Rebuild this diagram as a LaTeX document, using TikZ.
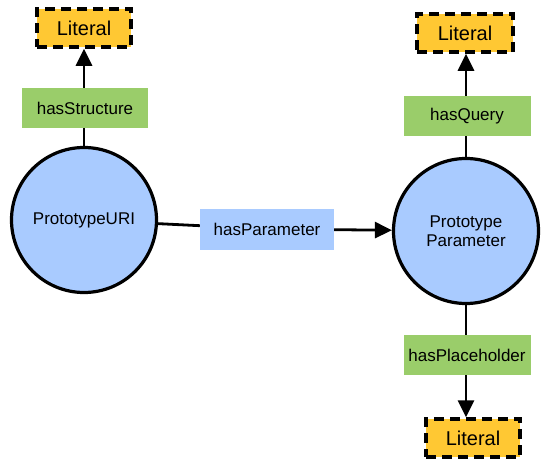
\documentclass[tikz,border=0pt]{standalone}
\usepackage{fontspec}
\setmainfont{Liberation Sans}
\usetikzlibrary{arrows.meta}
\definecolor{litfill}{HTML}{FFC833}
\definecolor{relgreen}{HTML}{9ACD6A}
\definecolor{nodeblue}{HTML}{A9CBFF}
\begin{document}
\begin{tikzpicture}[x=1pt,y=-1pt,
  literal/.style={draw=black, fill=litfill, line width=3.5pt, dash pattern=on 10pt off 6pt,
    minimum width=94pt, minimum height=38pt, inner sep=0pt, font=\fontsize{20}{24}\selectfont},
  rel/.style={fill=relgreen, minimum width=127pt, minimum height=40pt, inner sep=0pt,
    font=\fontsize{17}{20}\selectfont},
  relblue/.style={fill=nodeblue, minimum width=134pt, minimum height=41pt, inner sep=0pt,
    font=\fontsize{17}{20}\selectfont},
  concept/.style={circle, draw=black, fill=nodeblue, line width=3.2pt, minimum size=145pt,
    inner sep=0pt, align=center, font=\fontsize{17}{19}\selectfont},
  conn/.style={line width=2.8pt, draw=black},
  arr/.style={conn, -{Triangle[width=16pt,length=17pt]}}
]
\useasboundingbox (0,0) rectangle (550,471);
\node[literal] (lit1) at (84,28) {Literal};
\node[rel, minimum width=126pt] (hs) at (85,108) {hasStructure};
\node[concept] (uri) at (84,220) {PrototypeURI};
\node[relblue] (hp) at (267,229) {hasParameter};
\node[concept] (param) at (466,231) {Prototype\\Parameter};
\node[rel] (hq) at (467,116) {hasQuery};
\node[literal, minimum width=96pt] (lit2) at (465,33) {Literal};
\node[rel] (hph) at (467,355) {hasPlaceholder};
\node[literal] (lit3) at (473,438) {Literal};

\draw[conn] (uri.north) -- (uri.north |- hs.south);
\draw[arr] (hs.north -| uri.north) -- (lit1.south -| uri.north);
\draw[conn] (uri) -- (hp);
\draw[arr] (hp) -- (param);
\draw[conn] (param.north) -- (param.north |- hq.south);
\draw[arr] (hq.north -| param.north) -- (lit2.south -| param.north);
\draw[conn] (param.south) -- (param.south |- hph.north);
\draw[arr] (hph.south -| param.south) -- (lit3.north -| param.south);
\end{tikzpicture}
\end{document}
